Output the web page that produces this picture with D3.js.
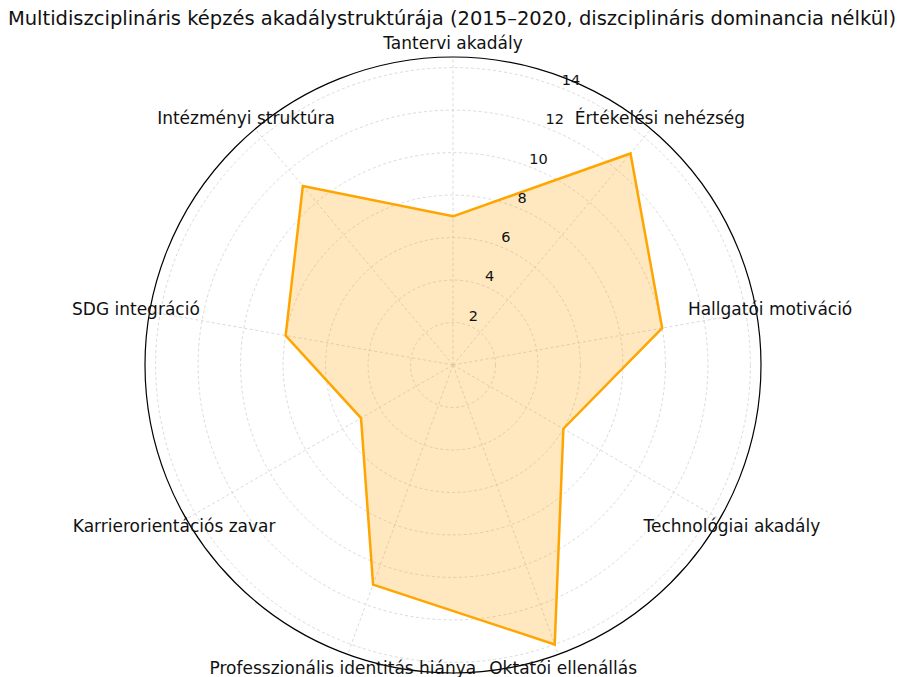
<!DOCTYPE html>
<html>
<head>
<meta charset="utf-8">
<script src="https://cdn.jsdelivr.net/npm/d3@7"></script>
<style>
  body { margin: 0; background: #fff; }
  text { font-family: "DejaVu Sans", sans-serif; fill: #111; }
</style>
</head>
<body>
<script>
// chart data
var categories = [
  "Tantervi akadály",
  "Értékelési nehézség",
  "Hallgatói motiváció",
  "Technológiai akadály",
  "Oktatói ellenállás",
  "Professzionális identitás hiánya",
  "Karrierorientációs zavar",
  "SDG integráció",
  "Intézményi struktúra"
];
var values = [7, 13, 10, 6, 14, 11, 5, 8, 11];
var ringTicks = [2, 4, 6, 8, 10, 12, 14];
var title = "Multidiszciplináris képzés akadálystruktúrája (2015–2020, diszciplináris dominancia nélkül)";

var width = 900, height = 677;
var cx = 453, cy = 365, outerR = 308, rMax = 14.5;

var svg = d3.select("body").append("svg")
  .attr("width", width)
  .attr("height", height);

var r = d3.scaleLinear().domain([0, rMax]).range([0, outerR]);
var angle = d3.scaleLinear().domain([0, categories.length]).range([0, 2 * Math.PI]);

var g = svg.append("g").attr("transform", "translate(" + cx + "," + cy + ")");

function px(a, rad) { return Math.sin(a) * rad; }
function py(a, rad) { return -Math.cos(a) * rad; }

// grid rings
g.selectAll(".ring")
  .data(ringTicks)
  .enter()
  .append("circle")
  .attr("class", "ring")
  .attr("r", function (d) { return r(d); })
  .style("fill", "none")
  .style("stroke", "#d0d0d0")
  .style("stroke-width", 0.8)
  .style("stroke-dasharray", "3,2.5");

// spokes
g.selectAll(".spoke")
  .data(categories)
  .enter()
  .append("line")
  .attr("class", "spoke")
  .attr("x1", 0).attr("y1", 0)
  .attr("x2", function (d, i) { return px(angle(i), outerR); })
  .attr("y2", function (d, i) { return py(angle(i), outerR); })
  .style("stroke", "#d0d0d0")
  .style("stroke-width", 0.8)
  .style("stroke-dasharray", "3,2.5");

// data polygon
var line = d3.lineRadial()
  .angle(function (d, i) { return angle(i); })
  .radius(function (d) { return r(d); })
  .curve(d3.curveLinearClosed);

g.append("path")
  .datum(values)
  .attr("d", line)
  .style("fill", "rgba(255,165,0,0.25)")
  .style("stroke", "#FFA500")
  .style("stroke-width", 2.5)
  .style("stroke-linejoin", "miter");

// outer frame
g.append("circle")
  .attr("r", outerR)
  .style("fill", "none")
  .style("stroke", "#000")
  .style("stroke-width", 1.2);

// radial tick labels
var labAng = 22.5 * Math.PI / 180;
g.selectAll(".rlabel")
  .data(ringTicks)
  .enter()
  .append("text")
  .attr("class", "rlabel")
  .attr("x", function (d) { return px(labAng, r(d) + 11); })
  .attr("y", function (d) { return py(labAng, r(d) + 11); })
  .attr("text-anchor", "middle")
  .attr("dominant-baseline", "central")
  .style("font-size", "14.5px")
  .text(function (d) { return d; });

// category labels
g.selectAll(".clabel")
  .data(categories)
  .enter()
  .append("text")
  .attr("class", "clabel")
  .attr("x", function (d, i) { return px(angle(i), 322); })
  .attr("y", function (d, i) { return py(angle(i), 322); })
  .attr("text-anchor", "middle")
  .attr("dominant-baseline", "central")
  .style("font-size", "17px")
  .text(function (d) { return d; });

// title
svg.append("text")
  .attr("x", 452)
  .attr("y", 18)
  .attr("text-anchor", "middle")
  .attr("dominant-baseline", "central")
  .style("font-size", "19.5px")
  .text(title);
</script>
</body>
</html>
